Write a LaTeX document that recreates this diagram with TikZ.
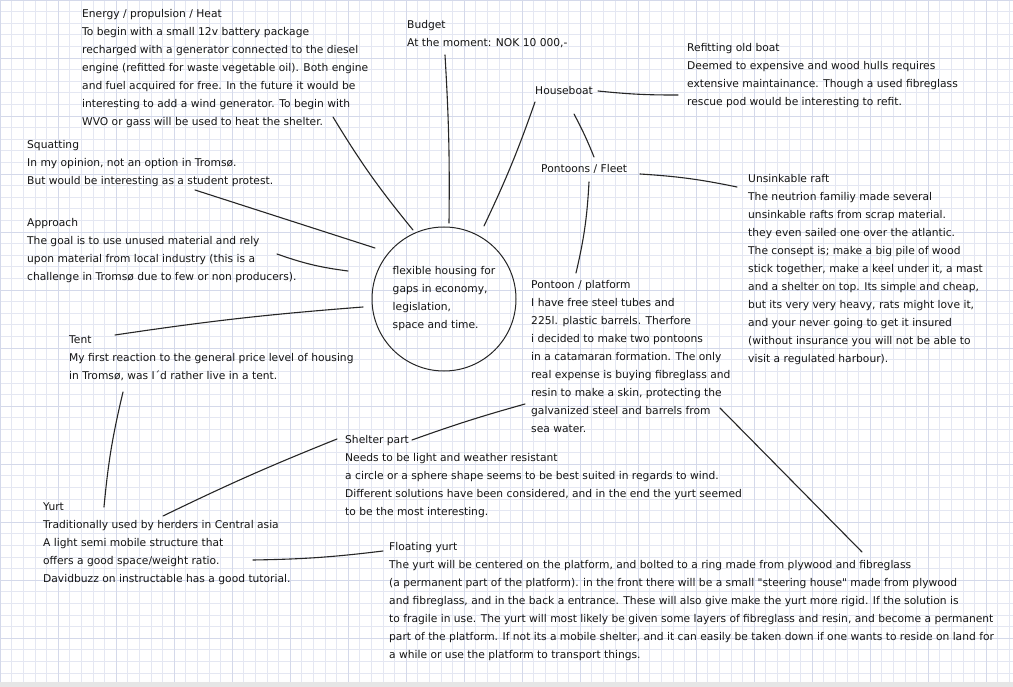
\documentclass[tikz,border=0pt]{standalone}
\usepackage{fontspec}
\setmainfont{DejaVu Sans}[Ligatures=TeXOff]
\usetikzlibrary{calc}
\definecolor{ink}{HTML}{141414}
\definecolor{pen}{HTML}{262626}
\definecolor{gridminor}{HTML}{E4E7F2}
\definecolor{gridmajor}{HTML}{D4D9EA}
\definecolor{pagebar}{HTML}{E6E6E6}

\begin{document}
\begin{tikzpicture}[
    x=1pt, y=-1pt,
    note/.style    = {anchor=north west, align=left, inner sep=0pt, text=ink,
                      font=\fontsize{10.7}{18}\selectfont},
    hubnode/.style = {circle, draw=pen, line width=1pt, minimum size=144pt,
                      inner sep=0pt, align=left, text=ink,
                      font=\fontsize{10.7}{18}\selectfont},
    link/.style    = {draw=pen, line width=1.1pt, line cap=round},
    minorline/.style = {draw=gridminor, line width=0.6pt},
    majorline/.style = {draw=gridmajor, line width=0.8pt},
  ]

  % ---------------- paper ----------------
  \useasboundingbox (0,0) rectangle (1013,687);
  \fill[white] (0,0) rectangle (1013,687);
  \foreach \gx in {0,11.6,...,1020} \draw[minorline] (\gx,0) -- (\gx,687);
  \foreach \gy in {0,11.6,...,690}  \draw[minorline] (0,\gy) -- (1013,\gy);
  \foreach \gx in {0,58,...,1020}   \draw[majorline] (\gx,0) -- (\gx,687);
  \foreach \gy in {0,58,...,690}    \draw[majorline] (0,\gy) -- (1013,\gy);
  \fill[pagebar] (0,682) rectangle (1013,687);

  % ---------------- centre ----------------
  \node[hubnode] (hub) at (444,299)
    {flexible housing for\\gaps in economy,\\legislation,\\space and time.};

  % ---------------- top / left notes ----------------
  \node[note] (energy) at (82,9.5)
    {Energy / propulsion / Heat\\
     To begin with a small 12v battery package\\
     recharged with a generator connected to the diesel\\
     engine (refitted for waste vegetable oil). Both engine\\
     and fuel acquired for free. In the future it would be\\
     interesting to add a wind generator. To begin with\\
     WVO or gass will be used to heat the shelter.};

  \node[note] (budget) at (407,20.5)
    {Budget\\At the moment: NOK 10 000,-};

  \node[note] (squat) at (27,140.5)
    {Squatting\\
     In my opinion, not an option in Tromsø.\\
     But would be interesting as a student protest.};

  \node[note] (approach) at (27,218.5)
    {Approach\\
     The goal is to use unused material and rely\\
     upon material from local industry (this is a\\
     challenge in Tromsø due to few or non producers).};

  \node[note] (tent) at (69,335.5)
    {Tent\\
     My first reaction to the general price level of housing\\
     in Tromsø, was I´d rather live in a tent.};

  \node[note] (yurt) at (43,502.5)
    {Yurt\\
     Traditionally used by herders in Central asia\\
     A light semi mobile structure that\\
     offers a good space/weight ratio.\\
     Davidbuzz on instructable has a good tutorial.};

  % ---------------- right side notes ----------------
  \node[note] (houseboat) at (535,86.5) {Houseboat};

  \node[note] (refit) at (687,43.5)
    {Refitting old boat\\
     Deemed to expensive and wood hulls requires\\
     extensive maintainance. Though a used fibreglass\\
     rescue pod would be interesting to refit.};

  \node[note] (fleet) at (541,164.5) {Pontoons / Fleet};

  \node[note] (raft) at (748,174.5)
    {Unsinkable raft\\
     The neutrion familiy made several\\
     unsinkable rafts from scrap material.\\
     they even sailed one over the atlantic.\\
     The consept is; make a big pile of wood\\
     stick together, make a keel under it, a mast\\
     and a shelter on top. Its simple and cheap,\\
     but its very very heavy, rats might love it,\\
     and your never going to get it insured\\
     (without insurance you will not be able to\\
     visit a regulated harbour).};

  \node[note] (pontoon) at (531,280.5)
    {Pontoon / platform\\
     I have free steel tubes and\\
     225l. plastic barrels. Therfore\\
     i decided to make two pontoons\\
     in a catamaran formation. The only\\
     real expense is buying fibreglass and\\
     resin to make a skin, protecting the\\
     galvanized steel and barrels from\\
     sea water.};

  \node[note] (shelter) at (345,435.5)
    {Shelter part\\
     Needs to be light and weather resistant\\
     a circle or a sphere shape seems to be best suited in regards to wind.\\
     Different solutions have been considered, and in the end the yurt seemed\\
     to be the most interesting.};

  \node[note] (floating) at (389,542.5)
    {Floating yurt\\
     The yurt will be centered on the platform, and bolted to a ring made from plywood and fibreglass\\
     (a permanent part of the platform). in the front there will be a small "steering house" made from plywood\\
     and fibreglass, and in the back a entrance. These will also give make the yurt more rigid. If the solution is\\
     to fragile in use. The yurt will most likely be given some layers of fibreglass and resin, and become a permanent\\
     part of the platform. If not its a mobile shelter, and it can easily be taken down if one wants to reside on land for\\
     a while or use the platform to transport things.};

  % ---------------- hand drawn links ----------------
  \draw[link] ($(energy.north west)+(251,107.5)$) to[bend right=4] ($(hub.center)+(-31,-69)$);
  \draw[link] ($(budget.north west)+(38,34.5)$) to[bend left=2] ($(hub.center)+(5,-76)$);
  \draw[link] ($(houseboat.north west)+(0,15.5)$) to[bend left=3] ($(hub.center)+(40,-73)$);
  \draw[link] ($(houseboat.north west)+(63,4.5)$) to[bend right=3] ($(refit.north west)+(-9,51.5)$);
  \draw[link] ($(houseboat.north west)+(39,27.5)$) to[bend left=3] ($(fleet.north west)+(53,-7.5)$);
  \draw[link] ($(fleet.north west)+(99,9.5)$) to[bend left=4] ($(raft.north west)+(-11,12.5)$);
  \draw[link] ($(fleet.north west)+(48,17.5)$) to[bend left=5] ($(pontoon.north west)+(45,-7.5)$);
  \draw[link] ($(squat.north west)+(168,49.5)$) -- ($(hub.center)+(-69,-51)$);
  \draw[link] ($(approach.north west)+(250,35.5)$) to[bend right=6] ($(hub.center)+(-96,-28)$);
  \draw[link] ($(tent.north west)+(46,-0.5)$) to[bend left=2] ($(hub.center)+(-81,8)$);
  \draw[link] ($(tent.north west)+(54,56.5)$) to[bend right=4] ($(yurt.north west)+(61,4.5)$);
  \draw[link] ($(yurt.north west)+(120,13.5)$) to[bend left=2] ($(shelter.north west)+(-8,3.5)$);
  \draw[link] ($(yurt.north west)+(210,57.5)$) to[bend right=3] ($(floating.north west)+(-6,8.5)$);
  \draw[link] ($(shelter.north west)+(67,4.5)$) to[bend left=2] ($(pontoon.north west)+(-6,123.5)$);
  \draw[link] ($(pontoon.north west)+(189,127.5)$) -- ($(floating.north west)+(473,9.5)$);

\end{tikzpicture}
\end{document}
